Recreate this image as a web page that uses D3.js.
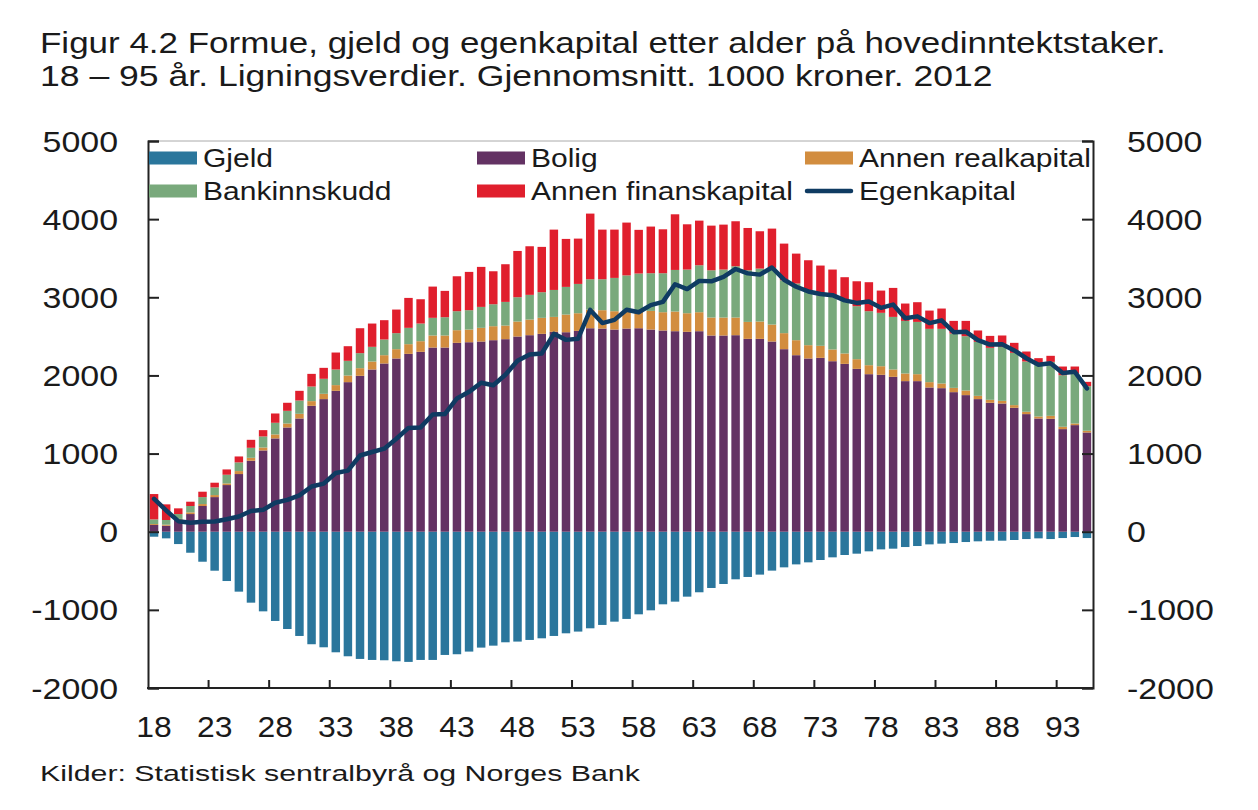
<!DOCTYPE html>
<html>
<head>
<meta charset="utf-8">
<script src="https://cdn.jsdelivr.net/npm/d3@7"></script>
<style>
  html, body { margin: 0; padding: 0; background: #fff; }
  svg { display: block; }
  text { font-family: "Liberation Sans", Arial, sans-serif; fill: #1a1a1a; }
</style>
</head>
<body>
<svg id="chart" width="1258" height="810"></svg>
<script>
// ---------------- DATA ----------------
const ages = d3.range(18, 96); // 18..95
const gjeld = [-64,-85,-158,-269,-384,-499,-631,-767,-908,-1019,-1142,-1245,-1334,-1440,-1479,-1543,-1594,-1628,-1641,-1645,-1658,-1666,-1641,-1641,-1577,-1568,-1534,-1483,-1458,-1415,-1406,-1385,-1364,-1334,-1300,-1278,-1236,-1193,-1151,-1116,-1057,-1006,-929,-895,-831,-775,-720,-669,-609,-579,-549,-498,-456,-418,-392,-362,-328,-298,-281,-251,-226,-217,-196,-183,-162,-153,-145,-132,-123,-115,-115,-106,-94,-85,-94,-81,-68,-81];
const bolig = [86,77,154,226,329,443,597,738,908,1040,1194,1334,1449,1611,1697,1803,1914,1995,2076,2153,2217,2276,2302,2357,2357,2417,2425,2434,2451,2464,2498,2515,2532,2558,2553,2570,2604,2600,2587,2600,2604,2587,2575,2566,2558,2566,2511,2511,2515,2468,2468,2434,2336,2259,2217,2225,2182,2148,2084,2016,2008,1982,1927,1927,1846,1837,1786,1748,1697,1650,1641,1586,1505,1449,1445,1313,1364,1270];
const realkapital = [12,13,10,22,25,26,21,38,38,38,51,51,60,60,68,73,85,98,102,106,119,124,136,154,154,162,162,175,179,174,192,200,205,191,226,226,239,235,235,215,210,239,234,252,238,243,230,230,226,217,222,217,205,192,170,154,150,133,124,115,110,94,98,89,68,60,55,59,42,38,34,34,30,26,38,30,21,22];
const bankinnskudd = [60,60,62,81,89,98,111,111,128,141,149,162,170,187,192,200,188,192,188,201,205,209,226,226,234,243,248,268,281,303,311,316,328,345,354,375,388,396,426,465,490,482,499,532,559,601,605,614,656,661,677,725,677,725,682,647,686,682,678,691,683,673,673,669,682,699,695,695,691,665,691,669,643,665,691,660,640,571];
const finanskapital = [324,200,73,55,69,60,68,76,102,81,119,103,124,162,140,217,187,319,298,247,302,383,311,400,337,447,490,512,422,482,592,622,580,772,614,580,840,635,618,676,559,597,562,712,579,571,571,575,576,541,478,503,469,383,405,380,337,294,319,371,285,371,222,252,234,260,162,196,145,153,145,128,128,81,77,111,89,55];
const egenkapital = [420,272,135,115,128,130,160,195,265,280,370,408,465,578,615,752,782,975,1020,1063,1190,1328,1335,1500,1505,1705,1790,1906,1875,2008,2187,2268,2281,2532,2455,2470,2838,2670,2711,2840,2808,2899,2941,3167,3105,3210,3205,3261,3362,3306,3290,3381,3225,3135,3075,3042,3027,2960,2928,2946,2865,2907,2732,2756,2670,2705,2553,2560,2452,2395,2398,2320,2220,2138,2155,2030,2046,1835];
const xTickLabels = [18,23,28,33,38,43,48,53,58,63,68,73,78,83,88,93];
const yTicks = [-2000,-1000,0,1000,2000,3000,4000,5000];
const seriesNames = ["Gjeld","Bolig","Annen realkapital","Bankinnskudd","Annen finanskapital"];
const lineName = "Egenkapital";
const titleLines = ["Figur 4.2 Formue, gjeld og egenkapital etter alder på hovedinntektstaker.",
                    "18 – 95 år. Ligningsverdier. Gjennomsnitt. 1000 kroner. 2012"];
const sourceText = "Kilder: Statistisk sentralbyrå og Norges Bank";

// ---------------- STYLE ----------------
const colors = {
  "Gjeld": "#2a769c",
  "Bolig": "#633263",
  "Annen realkapital": "#d28d3f",
  "Bankinnskudd": "#79a97c",
  "Annen finanskapital": "#e01f2d"
};
const lineColor = "#0f3b62";

const svg = d3.select("#chart");
const M = {left: 148, right: 1093, top: 141, bottom: 688};

// stretched text helper
function stext(g, x, y, str, size, anchor, sx) {
  return g.append("text")
    .attr("transform", `translate(${x},${y}) scale(${sx},1)`)
    .attr("text-anchor", anchor || "start")
    .style("font-size", size + "px")
    .text(str);
}
function fitScale(str, size, target) {
  const t = svg.append("text").style("font-size", size + "px").text(str);
  const w = t.node().getComputedTextLength();
  t.remove();
  return target / w;
}

// ---------------- SCALES ----------------
const x = d3.scaleBand().domain(ages).range([M.left, M.right]).paddingInner(0.3).paddingOuter(0.15);
const y = d3.scaleLinear().domain([-2000, 5000]).range([M.bottom, M.top]);

// ---------------- BARS ----------------
const rows = ages.map((a, i) => ({
  age: a,
  "Gjeld": gjeld[i],
  "Bolig": bolig[i],
  "Annen realkapital": realkapital[i],
  "Bankinnskudd": bankinnskudd[i],
  "Annen finanskapital": finanskapital[i]
}));
const stacked = d3.stack().keys(seriesNames).offset(d3.stackOffsetDiverging)(rows);

const barsG = svg.append("g");
barsG.selectAll("g.series").data(stacked).join("g")
  .attr("fill", d => colors[d.key])
  .selectAll("rect").data(d => d).join("rect")
  .attr("x", d => x(d.data.age))
  .attr("width", x.bandwidth())
  .attr("y", d => y(Math.max(d[0], d[1])))
  .attr("height", d => Math.abs(y(d[0]) - y(d[1])));

// ---------------- LINE ----------------
const lineGen = d3.line()
  .x((d, i) => x(ages[i]) + x.bandwidth() / 2)
  .y(d => y(d));
svg.append("path").datum(egenkapital)
  .attr("d", lineGen)
  .attr("fill", "none")
  .attr("stroke", lineColor)
  .attr("stroke-width", 4.5)
  .attr("stroke-linejoin", "round")
  .attr("stroke-linecap", "round");

// ---------------- AXES ----------------
const axisG = svg.append("g");
axisG.append("line").attr("x1", M.left).attr("x2", M.right).attr("y1", M.top).attr("y2", M.top)
  .attr("stroke", "#aaa").attr("stroke-width", 1);

const leftAxis = d3.axisLeft(y).tickValues(yTicks).tickSize(-11).tickFormat("");
const rightAxis = d3.axisRight(y).tickValues(yTicks).tickSize(-11).tickFormat("");
const gl = axisG.append("g").attr("transform", `translate(${M.left},0)`).call(leftAxis);
const gr = axisG.append("g").attr("transform", `translate(${M.right},0)`).call(rightAxis);
[gl, gr].forEach(g => {
  g.select(".domain").attr("stroke", "#222").attr("stroke-width", 2);
  g.selectAll(".tick line").attr("stroke", "#222").attr("stroke-width", 2);
});

// bottom axis: ticks at category boundaries every 5 bars
const step = x.step();
const x0 = x(ages[0]) - step * x.paddingInner() / 2;
const bTicks = d3.range(1, 16).map(k => x0 + k * 5 * step);
axisG.append("line").attr("x1", M.left - 1).attr("x2", M.right + 1).attr("y1", M.bottom).attr("y2", M.bottom)
  .attr("stroke", "#222").attr("stroke-width", 2);
axisG.selectAll("line.bt").data(bTicks).join("line").attr("class", "bt")
  .attr("x1", d => d).attr("x2", d => d).attr("y1", M.bottom).attr("y2", M.bottom - 8)
  .attr("stroke", "#222").attr("stroke-width", 2);

// tick labels
const labG = svg.append("g");
const tickSize = 29, tickSx = 1.17;
yTicks.forEach(v => {
  stext(labG, 118, y(v) + 10.5, String(v), tickSize, "end", tickSx);
  stext(labG, 1127, y(v) + 10.5, String(v), tickSize, "start", tickSx);
});
xTickLabels.forEach(a => {
  stext(labG, x(a) + x.bandwidth() / 2, 737, String(a), tickSize, "middle", 1.1);
});

// ---------------- LEGEND ----------------
const legG = svg.append("g");
const legSize = 25;
const legSx = fitScale("Annen realkapital", legSize, 232);
const legendItems = [
  {name: "Gjeld", col: 0, row: 0},
  {name: "Bolig", col: 1, row: 0},
  {name: "Annen realkapital", col: 2, row: 0},
  {name: "Bankinnskudd", col: 0, row: 1},
  {name: "Annen finanskapital", col: 1, row: 1},
  {name: lineName, col: 2, row: 1, line: true}
];
const colX = [149, 477, 805];
const rowY = [158, 191];
legendItems.forEach(it => {
  const sx = colX[it.col], sy = rowY[it.row];
  if (it.line) {
    legG.append("line").attr("x1", sx + 2).attr("x2", sx + 46).attr("y1", sy).attr("y2", sy)
      .attr("stroke", lineColor).attr("stroke-width", 4.5).attr("stroke-linecap", "round");
  } else {
    legG.append("rect").attr("x", sx).attr("y", sy - 6.5).attr("width", 48).attr("height", 13)
      .attr("fill", colors[it.name]);
  }
  stext(legG, sx + 54, sy + 9, it.name, legSize, "start", legSx);
});

// ---------------- TITLE & SOURCE ----------------
const titleSize = 29;
stext(svg, 40, 53, titleLines[0], titleSize, "start", fitScale(titleLines[0], titleSize, 1126));
stext(svg, 40, 86, titleLines[1], titleSize, "start", fitScale(titleLines[1], titleSize, 953));

const srcSize = 22;
stext(svg, 40, 781, sourceText, srcSize, "start", fitScale(sourceText, srcSize, 600));
</script>
</body>
</html>
